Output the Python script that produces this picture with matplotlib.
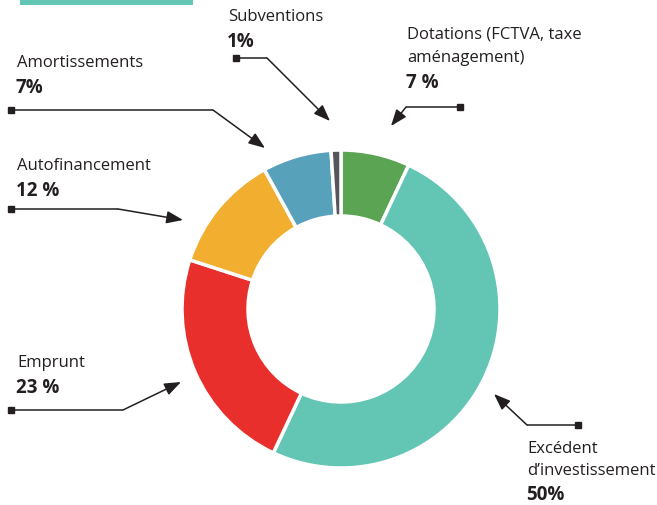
import matplotlib
matplotlib.use("Agg")
import matplotlib.pyplot as plt
from matplotlib.patches import Rectangle

# ---- data ----
labels = ["Dotations (FCTVA, taxe\naménagement)", "Excédent\nd’investissement", "Emprunt",
          "Autofinancement", "Amortissements", "Subventions"]
values = [7, 50, 23, 12, 7, 1]
pct_labels = ["7 %", "50%", "23 %", "12 %", "7%", "1%"]
colors = ["#5aa453", "#63c5b4", "#e92f2c", "#f2ae2e", "#57a1bb", "#55575a"]

W, H = 657, 506
fig = plt.figure(figsize=(W / 100, H / 100), dpi=100)
ax = fig.add_axes([0, 0, 1, 1])

def Y(y):
    return H - y

cx, cy, R = 341, 310, 159
ax.pie(values, colors=colors, startangle=90, counterclock=False,
       center=(cx, Y(cy)), radius=R, frame=True,
       wedgeprops=dict(width=R * 0.415, edgecolor="white", linewidth=2.5))
ax.set_xlim(0, W)
ax.set_ylim(0, H)
ax.set_aspect("equal")
ax.axis("off")

# teal header bar
ax.add_patch(Rectangle((20, Y(6)), 173, 6, facecolor="#63c5b4", edgecolor="none"))

FONT = "Open Sans"
TC = "#231f20"

# label layout: text position, line spacing, marker, elbow, arrow tip
layout = {
    "Subventions": dict(tx=228, ty=17, ls=23.5, m=(236, 59), e=(267, 59), t=(330, 122)),
    "Amortissements": dict(tx=17, ty=63, ls=23.5, m=(11, 111), e=(213, 111), t=(265, 149)),
    "Autofinancement": dict(tx=17, ty=166, ls=23.5, m=(11, 210), e=(118, 210), t=(183, 221)),
    "Emprunt": dict(tx=17, ty=363, ls=23.5, m=(11, 411), e=(123, 411), t=(181, 383)),
    "Dotations (FCTVA, taxe\naménagement)": dict(tx=407, ty=34, ls=23.5, m=(460, 108), e=(406, 108), t=(391, 127)),
    "Excédent\nd’investissement": dict(tx=527, ty=449, ls=22.5, m=(578, 426), e=(527, 426), t=(494, 395)),
}

for lab, pct in zip(labels, pct_labels):
    L = layout[lab]
    LS = L["ls"]
    lines = lab.split("\n")
    for i, line in enumerate(lines):
        ax.text(L["tx"], Y(L["ty"] + i * LS), line, fontsize=12, family=FONT,
                color=TC, ha="left", va="center")
    ax.text(L["tx"] - 1, Y(L["ty"] + len(lines) * LS + 1.5), pct, fontsize=13.5, family=FONT,
            fontweight="bold", color=TC, ha="left", va="center")
    mx, my = L["m"]
    ex, ey = L["e"]
    tx, ty = L["t"]
    ax.plot([mx, ex], [Y(my), Y(ey)], color=TC, lw=1.1, solid_capstyle="butt")
    ax.plot([mx], [Y(my)], marker="s", ms=5, color=TC, mec=TC)
    ax.annotate("", xy=(tx, Y(ty)), xytext=(ex, Y(ey)),
                arrowprops=dict(arrowstyle="-|>,head_length=1.0,head_width=0.38",
                                color=TC, lw=1.1, shrinkA=0, shrinkB=0))

fig.savefig("out.png", dpi=100)
